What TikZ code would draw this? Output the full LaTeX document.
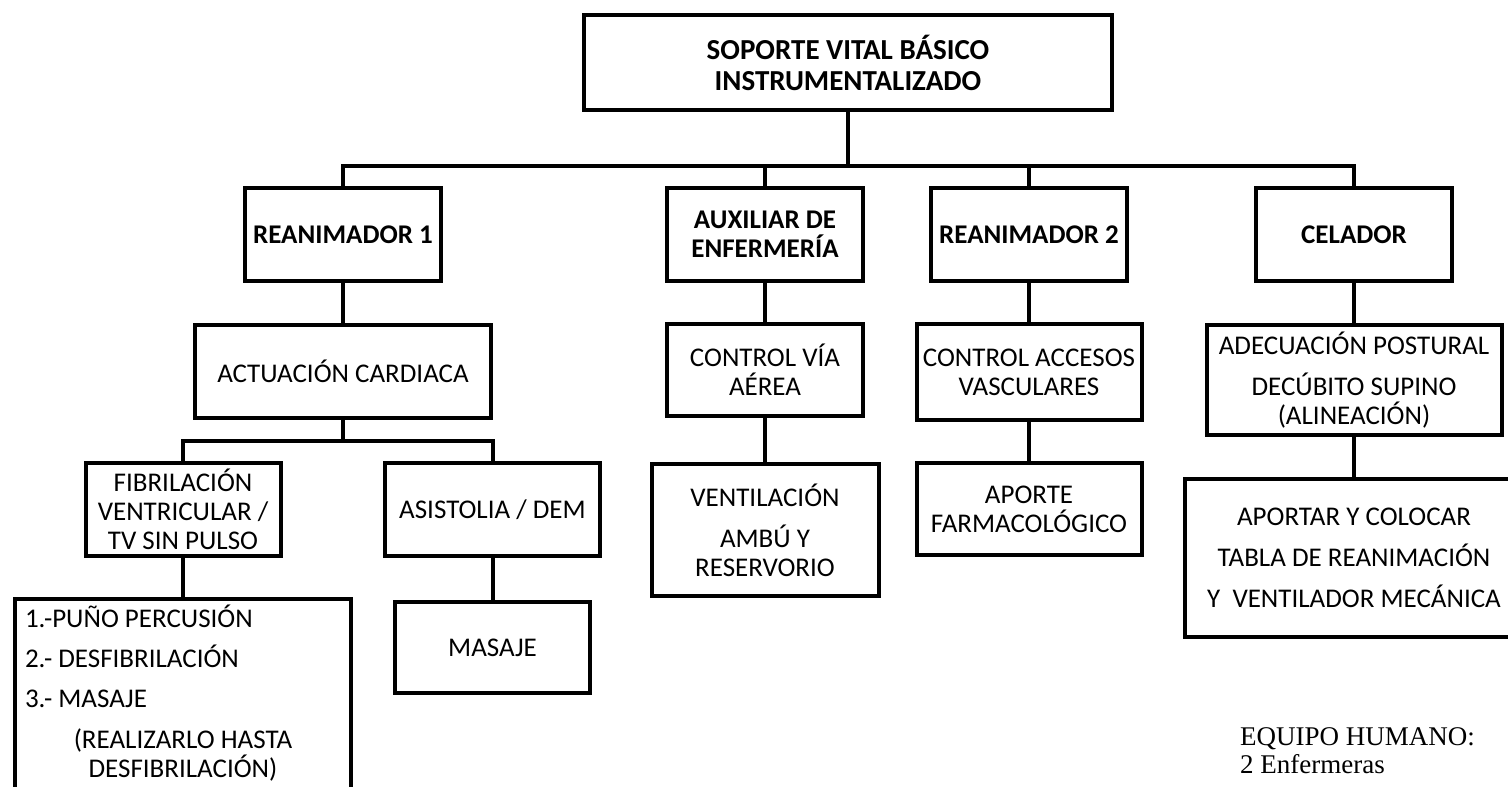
\documentclass[tikz,border=0pt]{standalone}
\usepackage{fontspec}
\setmainfont{Carlito}
\newfontfamily\notefont{Liberation Serif}
\usetikzlibrary{positioning}
\tikzstyle{block} = [draw, line width=4pt, rectangle, align=center,
    inner sep=0pt, font=\fontsize{27}{29}\selectfont]
\tikzstyle{role} = [block, minimum width=196pt, minimum height=93pt,
    font=\bfseries\fontsize{27}{29}\selectfont]
\tikzstyle{link} = [line width=4pt]

\begin{document}
\begin{tikzpicture}[x=1pt, y=-1pt]
  \useasboundingbox (0,0) rectangle (1508,787);
  \clip (0,0) rectangle (1508,787);
  % Place the blocks
  \node [block, minimum width=528pt, minimum height=95pt,
    font=\bfseries\fontsize{29}{31}\selectfont] (top) at (848,62.5)
    {SOPORTE VITAL BÁSICO\\INSTRUMENTALIZADO};
  \node [role] (rean1) at (343,234.5) {REANIMADOR 1};
  \node [role] (aux) at (765,234.5) {AUXILIAR DE\\ENFERMERÍA};
  \node [role] (rean2) at (1029,234.5) {REANIMADOR 2};
  \node [role] (celador) at (1354,234.5) {CELADOR};

  \node [block, minimum width=296pt, minimum height=93pt] (actuacion)
    at (343,371.5) {ACTUACIÓN CARDIACA};
  \node [block, minimum width=196pt, minimum height=92pt] (via)
    at (765,370) {CONTROL VÍA\\AÉREA};
  \node [block, minimum width=225pt, minimum height=96pt] (accesos)
    at (1029,372) {CONTROL ACCESOS\\VASCULARES};
  \node [block, minimum width=295pt, minimum height=110pt] (postura)
    at (1354,380) {ADECUACIÓN POSTURAL\\[12pt]DECÚBITO SUPINO\\(ALINEACIÓN)};

  \node [block, minimum width=195pt, minimum height=93pt] (fv)
    at (183,509.5) {FIBRILACIÓN\\VENTRICULAR /\\TV SIN PULSO};
  \node [block, minimum width=215pt, minimum height=93pt] (asistolia)
    at (492.5,509.5) {ASISTOLIA / DEM};
  \node [block, minimum width=227pt, minimum height=132pt] (ventila)
    at (765,530) {VENTILACIÓN\\[12pt]AMBÚ Y\\RESERVORIO};
  \node [block, minimum width=225pt, minimum height=92pt] (aporte)
    at (1029,509) {APORTE\\FARMACOLÓGICO};
  \node [block, minimum width=338pt, minimum height=158pt] (tabla)
    at (1354,558) {APORTAR Y COLOCAR\\[12pt]TABLA DE REANIMACIÓN\\[12pt]Y~ VENTILADOR MECÁNICA};

  \node [block, anchor=north, text width=316pt, align=flush left,
    inner xsep=10pt, inner ysep=6pt] (pasos) at (183,597)
    {1.-PUÑO PERCUSIÓN\\[11pt]2.- DESFIBRILACIÓN\\[11pt]3.- MASAJE\par
     \vspace{12pt}\centering (REALIZARLO HASTA\\DESFIBRILACIÓN)\\
     \rule{0pt}{26pt}\par};
  \node [block, minimum width=195pt, minimum height=91pt] (masaje)
    at (492.5,647.5) {MASAJE};

  \node [anchor=north west, align=left, inner sep=0pt,
    font=\notefont\fontsize{27}{28}\selectfont] (equipo) at (1240,727)
    {EQUIPO HUMANO:\\2 Enfermeras};

  % Connect the nodes
  \coordinate (bar) at (848,166);
  \coordinate (cbar) at (343,441);
  \draw [link] (top) -- (bar);
  \draw [link] (rean1.north) |- (bar) -| (celador.north);
  \draw [link] (aux.north) |- (bar);
  \draw [link] (rean2.north) |- (bar);
  \draw [link] (rean1) -- (actuacion);
  \draw [link] (aux) -- (via);
  \draw [link] (rean2) -- (accesos);
  \draw [link] (celador) -- (postura);
  \draw [link] (actuacion) -- (cbar);
  \draw [link] (fv.north) |- (cbar) -| (asistolia.north);
  \draw [link] (via) -- (ventila);
  \draw [link] (accesos) -- (aporte);
  \draw [link] (postura) -- (tabla);
  \draw [link] (fv.south) -- (pasos.north);
  \draw [link] (asistolia) -- (masaje);
\end{tikzpicture}
\end{document}
